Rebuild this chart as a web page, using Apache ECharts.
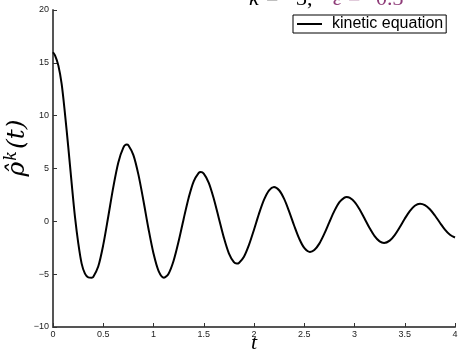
<!DOCTYPE html>
<html>
<head>
<meta charset="utf-8">
<script src="https://cdn.jsdelivr.net/npm/echarts@6/dist/echarts.min.js"></script>
<style>
html,body{margin:0;padding:0;background:#fff;}
#c{width:458px;height:353px;}
</style>
</head>
<body>
<div id="c"></div>
<script>
// Data
var tValues = [0, 0.02, 0.053, 0.086, 0.119, 0.152, 0.186, 0.219, 0.252, 0.285, 0.318, 0.351, 0.385,
  0.40, 0.45, 0.50, 0.55, 0.60, 0.65, 0.70, 0.733,
  0.75, 0.80, 0.85, 0.90, 0.95, 1.00, 1.05, 1.104,
  1.15, 1.20, 1.25, 1.30, 1.35, 1.40, 1.45, 1.47,
  1.50, 1.55, 1.60, 1.65, 1.70, 1.75, 1.80, 1.828,
  1.85, 1.90, 1.95, 2.00, 2.05, 2.10, 2.15, 2.199,
  2.25, 2.30, 2.35, 2.40, 2.45, 2.50, 2.557,
  2.60, 2.65, 2.70, 2.75, 2.80, 2.85, 2.90, 2.922,
  2.95, 3.00, 3.05, 3.10, 3.15, 3.20, 3.25, 3.294,
  3.35, 3.40, 3.45, 3.50, 3.55, 3.60, 3.652,
  3.70, 3.75, 3.80, 3.85, 3.90, 3.95, 4.00];
var rhoValues = [16.0, 15.7, 14.76, 13.0, 10.2, 7.03, 3.57, 0.4, -2.1, -4.0, -4.95, -5.3, -5.33,
  -5.27, -4.28, -2.23, 0.46, 3.24, 5.57, 6.98, 7.26,
  7.2, 6.27, 4.42, 1.95, -0.70, -3.04, -4.68, -5.33,
  -4.95, -3.73, -1.89, 0.23, 2.24, 3.79, 4.59, 4.67,
  4.52, 3.65, 2.14, 0.30, -1.54, -3.03, -3.87, -4.0,
  -3.94, -3.35, -2.23, -0.79, 0.73, 2.05, 2.94, 3.25,
  2.94, 2.12, 0.92, -0.42, -1.64, -2.52, -2.9,
  -2.72, -2.11, -1.17, -0.07, 0.99, 1.82, 2.25, 2.3,
  2.24, 1.85, 1.15, 0.27, -0.63, -1.40, -1.90, -2.05,
  -1.83, -1.30, -0.56, 0.25, 0.97, 1.48, 1.67,
  1.54, 1.14, 0.55, -0.13, -0.78, -1.27, -1.53];
var xTicks = [0, 0.5, 1, 1.5, 2, 2.5, 3, 3.5, 4];
var yTicks = [-10, -5, 0, 5, 10, 15, 20];
var seriesName = 'kinetic equation';

var points = tValues.map(function (t, i) { return [t, rhoValues[i]]; });
function fmt(v) { return String(v).replace('-', '\u2212'); }

var serif = 'Liberation Serif';
var purple = '#8e3b78';
function titlePiece(txt, x, color, italic) {
  return {type: 'text', left: x, top: -12, silent: true,
    style: {text: txt, fill: color, font: (italic ? 'italic ' : '') + '22px "' + serif + '"'}};
}

var chart = echarts.init(document.getElementById('c'), null, {renderer: 'canvas'});
chart.setOption({
  animation: false,
  backgroundColor: '#fff',
  grid: {left: 53, right: 3, top: 10, bottom: 26, outerBoundsMode: 'none'},
  legend: {
    left: 293, top: 15,
    padding: [1, 3, 1, 4],
    borderColor: '#000', borderWidth: 1,
    backgroundColor: '#fff',
    itemWidth: 25, itemHeight: 2,
    icon: 'rect',
    textStyle: {fontFamily: 'Liberation Sans, Arial, sans-serif', fontSize: 16, color: '#000', padding: [0, 0, 0, 5], lineHeight: 16},
    data: [seriesName]
  },
  graphic: [
    titlePiece('k', 249, '#000', true),
    titlePiece('=', 266, '#000', false),
    titlePiece('3,', 296, '#000', false),
    titlePiece('\u03B5', 333, purple, true),
    titlePiece('=', 348, purple, false),
    titlePiece('0.3', 376, purple, false),
    {
      type: 'text', x: 17, y: 148, rotation: Math.PI / 2, silent: true,
      style: {
        text: '{a|\u03C1\u0302}{s|k}{a|(t)}',
        align: 'center', verticalAlign: 'middle',
        rich: {
          a: {font: 'italic 25px "DejaVu Serif"', fill: '#000', lineHeight: 26},
          s: {font: 'italic 16px "DejaVu Serif"', fill: '#000', verticalAlign: 'top', lineHeight: 26, padding: [0, 2, 0, 1]}
        }
      }
    }
  ],
  xAxis: {
    type: 'value', min: 0, max: 4, interval: 0.5,
    name: 't', nameLocation: 'middle', nameGap: 7, nameMoveOverlap: false,
    nameTextStyle: {fontFamily: serif, fontStyle: 'italic', fontSize: 22, color: '#000', lineHeight: 18},
    axisLine: {show: true, onZero: false, lineStyle: {color: '#555', width: 2}},
    axisTick: {show: true, inside: true, length: 4, lineStyle: {color: '#333', width: 1}},
    axisLabel: {fontFamily: 'Liberation Sans, Arial', fontSize: 9, color: '#222', margin: 3, formatter: function (v) { return fmt(v); }},
    splitLine: {show: false}
  },
  yAxis: {
    type: 'value', min: -10, max: 20, interval: 5,
    axisLine: {show: true, onZero: false, lineStyle: {color: '#555', width: 2}},
    axisTick: {show: true, inside: true, length: 4, lineStyle: {color: '#333', width: 1}},
    axisLabel: {fontFamily: 'Liberation Sans, Arial', fontSize: 9, color: '#222', margin: 4, formatter: function (v) { return fmt(v); }},
    splitLine: {show: false}
  },
  series: [{
    name: seriesName,
    type: 'line',
    data: points,
    smooth: 0.3,
    symbol: 'none',
    showSymbol: false,
    lineStyle: {color: '#000', width: 2},
    itemStyle: {color: '#000'}
  }]
});
</script>
</body>
</html>
